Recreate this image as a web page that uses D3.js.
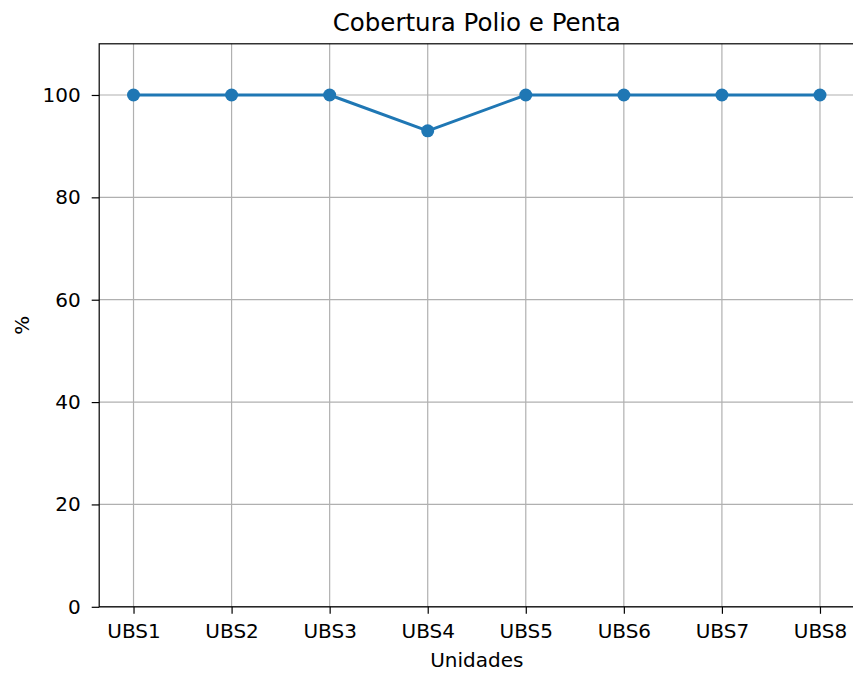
<!DOCTYPE html>
<html>
<head>
<meta charset="utf-8">
<script src="https://cdn.jsdelivr.net/npm/d3@7"></script>
<style>
  html, body { margin: 0; padding: 0; background: #fff; }
  svg { display: block; }
  text { font-family: "DejaVu Sans", sans-serif; fill: #000; }
</style>
</head>
<body>
<svg id="chart" width="853" height="673"></svg>
<script>
const categories = ["UBS1", "UBS2", "UBS3", "UBS4", "UBS5", "UBS6", "UBS7", "UBS8"];
const values = [100, 100, 100, 93, 100, 100, 100, 100];
const yTicks = [0, 20, 40, 60, 80, 100];
const title = "Cobertura Polio e Penta";
const xLabel = "Unidades";
const yLabel = "%";

const svg = d3.select("#chart");
const pLeft = 99.2, pRight = 854.3, pTop = 43.8, pBottom = 606.8;

const x = d3.scaleLinear().domain([-0.35, categories.length - 1 + 0.35]).range([pLeft, pRight]);
const y = d3.scaleLinear().domain([0, 110]).range([pBottom, pTop]);

const g = svg.append("g");

// grid
g.selectAll(".vgrid").data(categories).enter().append("line")
  .attr("x1", (d, i) => x(i)).attr("x2", (d, i) => x(i))
  .attr("y1", pTop).attr("y2", pBottom)
  .attr("stroke", "#b0b0b0").attr("stroke-width", 1.2);
g.selectAll(".hgrid").data(yTicks).enter().append("line")
  .attr("x1", pLeft).attr("x2", pRight)
  .attr("y1", d => y(d)).attr("y2", d => y(d))
  .attr("stroke", "#b0b0b0").attr("stroke-width", 1.2);

// axes
const xAxis = d3.axisBottom(x)
  .tickValues(d3.range(categories.length))
  .tickFormat(i => categories[i])
  .tickSizeInner(7).tickSizeOuter(0).tickPadding(10.5);
const yAxis = d3.axisLeft(y)
  .tickValues(yTicks)
  .tickSizeInner(7.5).tickSizeOuter(0).tickPadding(11);

const gx = svg.append("g").attr("transform", `translate(0,${pBottom})`).call(xAxis);
const gy = svg.append("g").attr("transform", `translate(${pLeft},0)`).call(yAxis);
[gx, gy].forEach(a => {
  a.select(".domain").remove();
  a.selectAll(".tick line").attr("stroke", "#000").attr("stroke-width", 1.2);
  a.selectAll(".tick text").attr("font-size", "20px").attr("font-family", "DejaVu Sans").attr("fill", "#000");
});

// line
const line = d3.line().x((d, i) => x(i)).y(d => y(d));
svg.append("path").datum(values)
  .attr("d", line).attr("fill", "none")
  .attr("stroke", "#1f77b4").attr("stroke-width", 3)
  .attr("stroke-linejoin", "round").attr("stroke-linecap", "square");
svg.selectAll(".pt").data(values).enter().append("circle")
  .attr("cx", (d, i) => x(i)).attr("cy", d => y(d)).attr("r", 6.5)
  .attr("fill", "#1f77b4");

// spines
svg.append("rect").attr("x", pLeft).attr("y", pTop)
  .attr("width", pRight - pLeft).attr("height", pBottom - pTop)
  .attr("fill", "none").attr("stroke", "#000").attr("stroke-width", 1.2);

// labels
svg.append("text").attr("x", (pLeft + pRight) / 2).attr("y", 31)
  .attr("text-anchor", "middle").attr("font-size", "24.5px").text(title);
svg.append("text").attr("x", (pLeft + pRight) / 2).attr("y", 667)
  .attr("text-anchor", "middle").attr("font-size", "20px").text(xLabel);
svg.append("text").attr("transform", `translate(29,${(pTop + pBottom) / 2}) rotate(-90)`)
  .attr("text-anchor", "middle").attr("font-size", "20px").text(yLabel);
</script>
</body>
</html>
